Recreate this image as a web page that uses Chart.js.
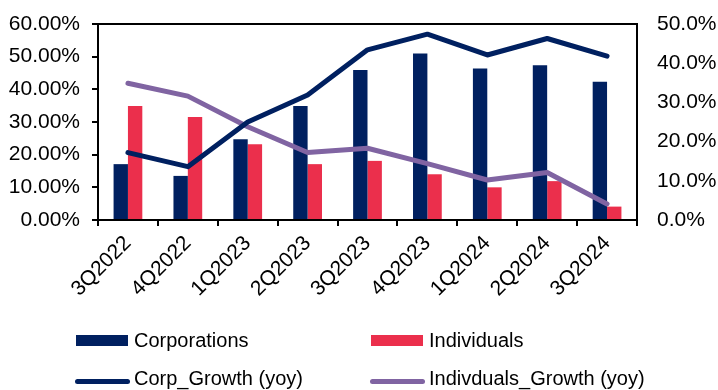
<!DOCTYPE html>
<html>
<head>
<meta charset="utf-8">
<script src="https://cdn.jsdelivr.net/npm/chart.js@4/dist/chart.umd.min.js"></script>
<style>
  html, body { margin: 0; padding: 0; background: #fff; }
  #wrap { position: relative; width: 718px; height: 390px; overflow: hidden; }
  canvas { position: absolute; left: 0; top: 0; }
  .leg { position: absolute; font-family: "Liberation Sans", Arial, sans-serif; font-size: 20px; color: #000; line-height: 20px; white-space: nowrap; }
  .sw { position: absolute; }
</style>
</head>
<body>
<div id="wrap">
  <canvas id="c" width="718" height="390"></canvas>
  <div class="sw" style="left:76px;top:335px;width:52px;height:11px;background:#002060"></div>
  <div class="leg" style="left:134px;top:330px">Corporations</div>
  <div class="sw" style="left:371px;top:335px;width:52px;height:11px;background:#EB2F4C"></div>
  <div class="leg" style="left:429px;top:330px">Individuals</div>
  <div class="sw" style="left:75px;top:379px;width:55px;height:5px;border-radius:3px;background:#002060"></div>
  <div class="leg" style="left:134px;top:368px">Corp_Growth (yoy)</div>
  <div class="sw" style="left:370px;top:379px;width:55px;height:5px;border-radius:3px;background:#8064A2"></div>
  <div class="leg" style="left:429px;top:368px">Indivduals_Growth (yoy)</div>
</div>
<script>
const categories = ['3Q2022','4Q2022','1Q2023','2Q2023','3Q2023','4Q2023','1Q2024','2Q2024','3Q2024'];
const corporations = [17.1, 13.5, 24.7, 34.9, 45.9, 51.0, 46.4, 47.4, 42.3];
const individuals = [34.9, 31.5, 23.2, 17.1, 18.1, 14.0, 10.0, 11.9, 4.1];
const corpGrowth = [17.2, 13.6, 25.0, 31.9, 43.4, 47.4, 42.1, 46.3, 41.8];
const indivGrowth = [34.9, 31.6, 23.8, 17.2, 18.3, 14.4, 10.2, 12.1, 4.1];
const leftTicks = [0, 10, 20, 30, 40, 50, 60];
const rightTicks = [0, 10, 20, 30, 40, 50];

const NAVY = '#002060', RED = '#EB2F4C', PURPLE = '#8064A2';
const FONT = '"Liberation Sans", Arial, sans-serif';

const frame = {
  id: 'frame',
  afterDraw(chart) {
    const a = chart.chartArea, ctx = chart.ctx;
    ctx.save();
    ctx.strokeStyle = '#000';
    ctx.lineWidth = 2;
    ctx.beginPath();
    ctx.moveTo(a.left, a.top);
    ctx.lineTo(a.right, a.top);
    ctx.stroke();
    ctx.restore();
  }
};

new Chart(document.getElementById('c'), {
  data: {
    labels: categories,
    datasets: [
      { type: 'line', label: 'Corp_Growth (yoy)', data: corpGrowth, yAxisID: 'y2', borderColor: NAVY, borderWidth: 5, pointRadius: 0, borderCapStyle: 'round', borderJoinStyle: 'round', tension: 0, order: 0 },
      { type: 'line', label: 'Indivduals_Growth (yoy)', data: indivGrowth, yAxisID: 'y2', borderColor: PURPLE, borderWidth: 5, pointRadius: 0, borderCapStyle: 'round', borderJoinStyle: 'round', tension: 0, order: 0 },
      { type: 'bar', label: 'Corporations', data: corporations, yAxisID: 'y', backgroundColor: NAVY, categoryPercentage: 0.48, barPercentage: 1.0, order: 1 },
      { type: 'bar', label: 'Individuals', data: individuals, yAxisID: 'y', backgroundColor: RED, categoryPercentage: 0.48, barPercentage: 1.0, order: 1 }
    ]
  },
  options: {
    responsive: false,
    animation: false,
    layout: { padding: { top: 24, bottom: 0, left: 0, right: 0 } },
    plugins: { legend: { display: false }, tooltip: { enabled: false } },
    scales: {
      x: {
        offset: true,
        grid: { offset: true, drawOnChartArea: false, drawTicks: true, tickLength: 6, color: '#000', lineWidth: 2 },
        border: { display: true, color: '#000', width: 2 },
        ticks: { color: '#000', font: { family: FONT, size: 21 }, minRotation: 45, maxRotation: 45, padding: 5, autoSkip: false },
        afterFit(s) { s.height = 170; }
      },
      y: {
        position: 'left',
        min: 0, max: 60,
        afterBuildTicks(s) { s.ticks = leftTicks.map(v => ({ value: v })); },
        grid: { drawOnChartArea: false, drawTicks: true, tickLength: 6, color: '#000', lineWidth: 2 },
        border: { display: true, color: '#000', width: 2 },
        ticks: { color: '#000', font: { family: FONT, size: 21 }, padding: 12, callback: v => v.toFixed(2) + '%' },
        afterFit(s) { s.width = 98; s.paddingTop = 0; s.paddingBottom = 0; }
      },
      y2: {
        position: 'right',
        min: 0, max: 50,
        afterBuildTicks(s) { s.ticks = rightTicks.map(v => ({ value: v })); },
        grid: { drawOnChartArea: false, drawTicks: false },
        border: { display: true, color: '#000', width: 2 },
        ticks: { color: '#000', font: { family: FONT, size: 21 }, padding: 20, callback: v => v.toFixed(1) + '%' },
        afterFit(s) { s.width = 81; s.paddingTop = 0; s.paddingBottom = 0; }
      }
    }
  },
  plugins: [frame]
});
</script>
</body>
</html>
